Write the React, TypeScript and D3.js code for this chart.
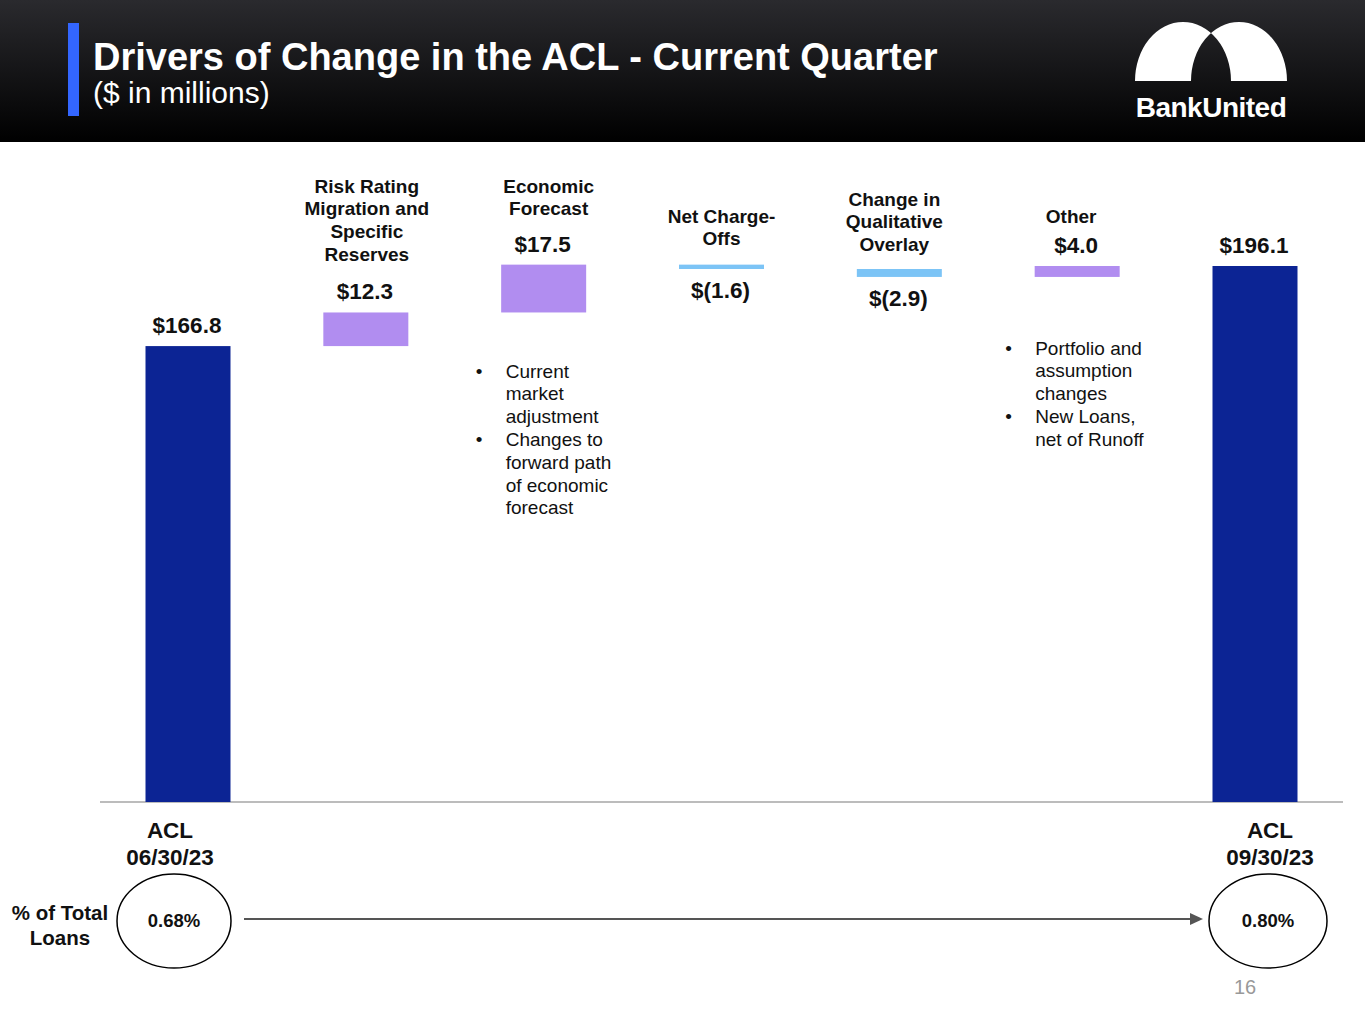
import * as d3 from 'd3';

// ACL waterfall, $ in millions
const categories = ['ACL 06/30/23', 'Risk Rating', 'Economic Forecast', 'Net Charge-Offs', 'Qualitative Overlay', 'Other', 'ACL 09/30/23'];
const changes = [166.8, 12.3, 17.5, -1.6, -2.9, 4.0, 196.1];
const kinds = ['total', 'delta', 'delta', 'delta', 'delta', 'delta', 'total'];
const valueLabels = ['$166.8', '$12.3', '$17.5', '$(1.6)', '$(2.9)', '$4.0', '$196.1'];
const headerLines = [
  [],
  ['Risk Rating', 'Migration and', 'Specific', 'Reserves'],
  ['Economic', 'Forecast'],
  ['Net Charge-', 'Offs'],
  ['Change in', 'Qualitative', 'Overlay'],
  ['Other'],
  [],
];
const bulletNotes = [
  { idx: 2, items: [['Current', 'market', 'adjustment'], ['Changes to', 'forward path', 'of economic', 'forecast']] },
  { idx: 5, items: [['Portfolio and', 'assumption', 'changes'], ['New Loans,', 'net of Runoff']] },
];
const pctStart = '0.68%';
const pctEnd = '0.80%';

// layout (not data)
const W = 1365;
const H = 1024;
const FONT = 'Liberation Sans, Arial, sans-serif';
const headerTop = [0, 186, 186, 216, 199, 216, 0];
const headerDx = [0, 1, 5, 0, -5, -6, 0];
const noteLeft = [0, 0, -68, 0, 0, -72, 0];
const noteTop = [0, 0, 371, 0, 0, 348, 0];
const barW = 85;

const COLORS = {
  total: '#0c2494',
  up: '#b18df0',
  down: '#7cc4f6',
};

export default function App() {
  const x = d3.scalePoint<string>().domain(categories).range([188, 1255]);
  const y = d3.scaleLinear().domain([0, 196.1]).range([802, 266]);

  // running totals for the waterfall
  let run = 0;
  const bars = categories.map((c, i) => {
    let lo: number, hi: number;
    if (kinds[i] === 'total') {
      lo = 0;
      hi = changes[i];
      run = changes[i];
    } else {
      const next = run + changes[i];
      lo = Math.min(run, next);
      hi = Math.max(run, next);
      run = next;
    }
    const fill = kinds[i] === 'total' ? COLORS.total : changes[i] >= 0 ? COLORS.up : COLORS.down;
    return { c, i, lo, hi, fill, neg: changes[i] < 0 };
  });

  const arc = (cx: number) => {
    const rx = 48, ry = 59, by = 81;
    return `M${cx - rx},${by} A${rx},${ry} 0 0 1 ${cx + rx},${by} Z`;
  };

  return (
    <div style={{ position: 'absolute', left: 0, top: 0 }}>
      <svg width={W} height={H} style={{ display: 'block', fontFamily: FONT, background: '#fff' }}>
        <defs>
          <linearGradient id="hdr" x1="0" y1="0" x2="0" y2="1">
            <stop offset="0%" stopColor="#2a2a2e" />
            <stop offset="100%" stopColor="#000" />
          </linearGradient>
        </defs>
        {/* header */}
        <rect x={0} y={0} width={W} height={142} fill="url(#hdr)" />
        <rect x={68} y={23} width={11} height={93} fill="#3366ff" />
        <text x={93} y={70} fill="#fff" fontSize={38} fontWeight="bold">Drivers of Change in the ACL - Current Quarter</text>
        <text x={93} y={103} fill="#fff" fontSize={30}>($ in millions)</text>
        <path d={arc(1183) + ' ' + arc(1239)} fill="#fff" fillRule="evenodd" />
        <text x={1211} y={117} fill="#fff" fontSize={28} fontWeight="bold" textAnchor="middle" letterSpacing={-0.5}>BankUnited</text>

        {/* baseline */}
        <line x1={100} x2={1343} y1={y(0)} y2={y(0)} stroke="#a6a6a6" strokeWidth={1.5} />

        {bars.map((b) => (
          <rect key={b.c} x={x(b.c)! - barW / 2} y={y(b.hi)} width={barW} height={Math.max(1, y(b.lo) - y(b.hi))} fill={b.fill} />
        ))}

        {bars.map((b) => (
          <text
            key={'v' + b.c}
            x={x(b.c)! - 1}
            y={b.neg ? y(b.lo) + 29 : y(b.hi) - 13}
            textAnchor="middle"
            fontSize={22.5}
            fontWeight="bold"
            fill="#111"
          >
            {valueLabels[b.i]}
          </text>
        ))}

        {categories.map((c, i) =>
          headerLines[i].map((ln, j) => (
            <text key={c + j} x={x(c)! + headerDx[i]} y={headerTop[i] + 6.5 + j * 22.7} textAnchor="middle" fontSize={19} fontWeight="bold" fill="#111">
              {ln}
            </text>
          ))
        )}

        {bulletNotes.map((n) => {
          const bx = x(categories[n.idx])! + noteLeft[n.idx];
          const top = noteTop[n.idx];
          let k = 0;
          return n.items.map((item, a) =>
            item.map((ln, j) => {
              const yy = top + 6.5 + k * 22.8;
              k++;
              return (
                <g key={`${n.idx}-${a}-${j}`}>
                  {j === 0 && <text x={bx} y={yy} fontSize={19} fill="#111">•</text>}
                  <text x={bx + 30} y={yy} fontSize={19} fill="#111">{ln}</text>
                </g>
              );
            })
          );
        })}

        {/* bottom labels */}
        {[['ACL', '06/30/23', 170], ['ACL', '09/30/23', 1270]].map(([a, d, cx]) => (
          <g key={d as string}>
            <text x={cx as number} y={838} textAnchor="middle" fontSize={22.5} fontWeight="bold" fill="#111">{a}</text>
            <text x={cx as number} y={865} textAnchor="middle" fontSize={22.5} fontWeight="bold" fill="#111">{d}</text>
          </g>
        ))}

        <text x={60} y={920} textAnchor="middle" fontSize={20.5} fontWeight="bold" fill="#111">% of Total</text>
        <text x={60} y={945} textAnchor="middle" fontSize={20.5} fontWeight="bold" fill="#111">Loans</text>

        <ellipse cx={174} cy={921} rx={57} ry={47} fill="none" stroke="#000" strokeWidth={1.5} />
        <ellipse cx={1268} cy={921} rx={59} ry={47} fill="none" stroke="#000" strokeWidth={1.5} />
        <text x={174} y={927} textAnchor="middle" fontSize={18.5} fontWeight="bold" fill="#111">{pctStart}</text>
        <text x={1268} y={927} textAnchor="middle" fontSize={18.5} fontWeight="bold" fill="#111">{pctEnd}</text>

        <line x1={244} x2={1192} y1={919} y2={919} stroke="#555" strokeWidth={2} />
        <path d="M1190,913 L1203,919 L1190,925 Z" fill="#555" />

        <text x={1245} y={994} textAnchor="middle" fontSize={20} fill="#999">16</text>
      </svg>
    </div>
  );
}
